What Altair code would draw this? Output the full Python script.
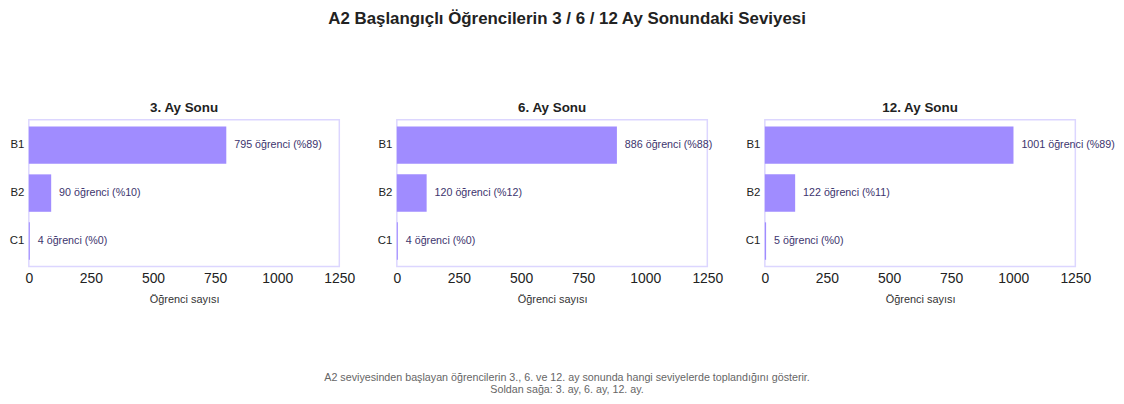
import altair as alt
import pandas as pd

levels = ["B1", "B2", "C1"]
panel_titles = ["3. Ay Sonu", "6. Ay Sonu", "12. Ay Sonu"]
counts_3 = [795, 90, 4]
counts_6 = [886, 120, 4]
counts_12 = [1001, 122, 5]
pcts_3 = [89, 10, 0]
pcts_6 = [88, 12, 0]
pcts_12 = [89, 11, 0]
x_ticks = [0, 250, 500, 750, 1000, 1250]

main_title = "A2 Başlangıçlı Öğrencilerin 3 / 6 / 12 Ay Sonundaki Seviyesi"
footer_lines = [
    "A2 seviyesinden başlayan öğrencilerin 3., 6. ve 12. ay sonunda hangi seviyelerde toplandığını gösterir.",
    "Soldan sağa: 3. ay, 6. ay, 12. ay.",
]

BAR = "#a08cff"
TXT = "#3d356e"
FONT = "Liberation Sans"


def panel(title, counts, pcts):
    df = pd.DataFrame({
        "level": levels,
        "count": counts,
        "label": [f"{c} öğrenci (%{p})" for c, p in zip(counts, pcts)],
    })
    base = alt.Chart(df).encode(
        y=alt.Y("level:N", sort=levels,
                scale=alt.Scale(paddingInner=0.22, paddingOuter=0.14),
                axis=alt.Axis(title=None, ticks=False, domain=False,
                              labelFontSize=11.5, labelPadding=5, minExtent=0,
                              labelColor="#222222")),
        x=alt.X("count:Q", scale=alt.Scale(domain=[0, 1250], nice=False),
                axis=alt.Axis(values=x_ticks, format="d", title="Öğrenci sayısı",
                              grid=False, ticks=False, domain=False,
                              labelFlush=False, labelFontSize=14, labelPadding=5,
                              labelColor="#222222", titleFontSize=11,
                              titleFontWeight="normal", titleColor="#333333",
                              titlePadding=8)),
    )
    bars = base.mark_bar(color=BAR)
    text = base.mark_text(align="left", baseline="middle", dx=8, fontSize=10.8,
                          color=TXT, font=FONT).encode(text="label:N")
    return alt.layer(bars, text).properties(
        width=313, height=148,
        title=alt.TitleParams(title, fontSize=13.5, fontWeight="bold",
                              color="#222222", offset=5),
    )


row = alt.hconcat(
    panel(panel_titles[0], counts_3, pcts_3),
    panel(panel_titles[1], counts_6, pcts_6),
    panel(panel_titles[2], counts_12, pcts_12),
    spacing=20,
).properties(
    title=alt.TitleParams(main_title, fontSize=17, fontWeight="bold",
                          color="#222222", offset=73, dx=5, anchor="middle")
)

chart = alt.vconcat(row).properties(
    padding=0,
    title=alt.TitleParams(footer_lines, orient="bottom", anchor="middle",
                          fontSize=10.8, fontWeight="normal", color="#666666",
                          offset=68, dx=5, lineHeight=12)
).configure(font=FONT).configure_view(
    stroke="#dcd6ff", strokeWidth=1.5
)

chart.save("out.html", embed_options={"renderer": "svg", "actions": False})
